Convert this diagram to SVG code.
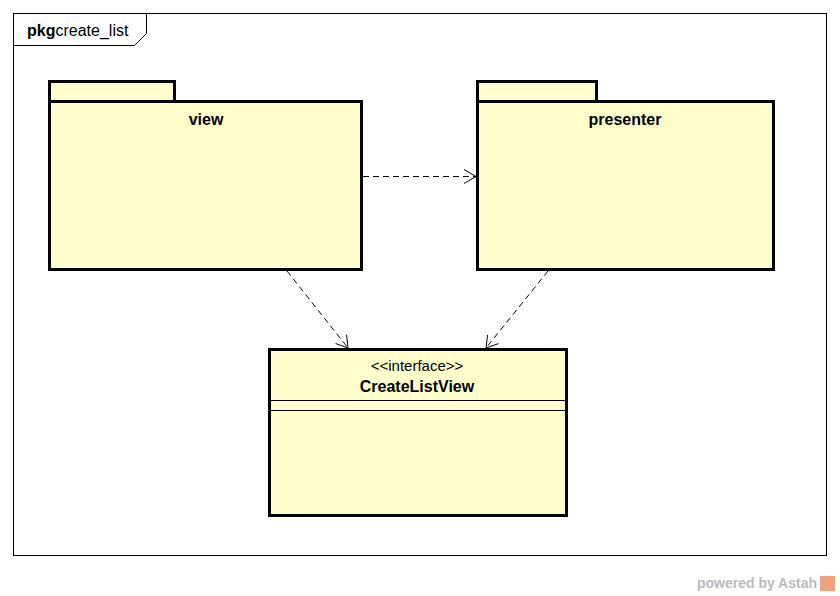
<svg xmlns="http://www.w3.org/2000/svg" width="840" height="596" viewBox="0 0 840 596">
<style>
.box{fill:#FFFFCC;stroke:#000;stroke-width:3}
.t{font-family:"Liberation Sans",Arial,sans-serif;font-size:15px;fill:#000}
.b{font-weight:bold;font-size:16px}
.dep{fill:none;stroke:#000;stroke-width:1;stroke-dasharray:6,4}
.head{fill:none;stroke:#000;stroke-width:1}
</style>
<rect x="0" y="0" width="840" height="596" fill="#fff"/>
<g id="frame">
<rect x="13.5" y="13.5" width="813" height="542" fill="none" stroke="#000" stroke-width="1"/>
<path d="M13.5,45.5 H134.5 L146.5,33.5 V13.5" fill="none" stroke="#000" stroke-width="1"/>
<text x="27" y="36" class="t" style="font-size:16px"><tspan class="b">pkg</tspan>create_list</text>
</g>
<g id="view">
<rect class="box" x="49.5" y="81.5" width="125" height="20"/>
<rect class="box" x="49.5" y="101.5" width="312" height="168"/>
<text x="206" y="125" class="t b" text-anchor="middle">view</text>
</g>
<g id="presenter">
<rect class="box" x="477.5" y="81.5" width="119" height="20"/>
<rect class="box" x="477.5" y="101.5" width="296" height="168"/>
<text x="625" y="125" class="t b" text-anchor="middle">presenter</text>
</g>
<g id="CreateListView">
<rect class="box" x="269.5" y="349.5" width="297" height="166"/>
<line x1="269.5" y1="400.5" x2="566.5" y2="400.5" stroke="#000" stroke-width="1"/>
<line x1="269.5" y1="410.5" x2="566.5" y2="410.5" stroke="#000" stroke-width="1"/>
<text x="417" y="371" class="t" text-anchor="middle">&lt;&lt;interface&gt;&gt;</text>
<text x="417" y="392" class="t b" text-anchor="middle">CreateListView</text>
</g>
<g id="connectors">
<line class="dep" x1="363" y1="176.5" x2="476" y2="176.5"/>
<path class="head" d="M464,169.5 L476,176.5 L464,183.5"/>
<line class="dep" x1="287" y1="271" x2="348" y2="348"/>
<path class="head" d="M335.6,343.5 L348,348 L346.6,334.8"/>
<line class="dep" x1="548" y1="271" x2="486" y2="348"/>
<path class="head" d="M487.6,334.9 L486,348 L498.5,343.6"/>
</g>
<g id="watermark">
<text x="817" y="588" font-family="'Liberation Sans',Arial,sans-serif" font-size="14" font-weight="bold" fill="#BBBBBB" text-anchor="end">powered by Astah</text>
<rect x="820" y="576" width="15" height="15" fill="#F0A27C"/>
</g>
</svg>
